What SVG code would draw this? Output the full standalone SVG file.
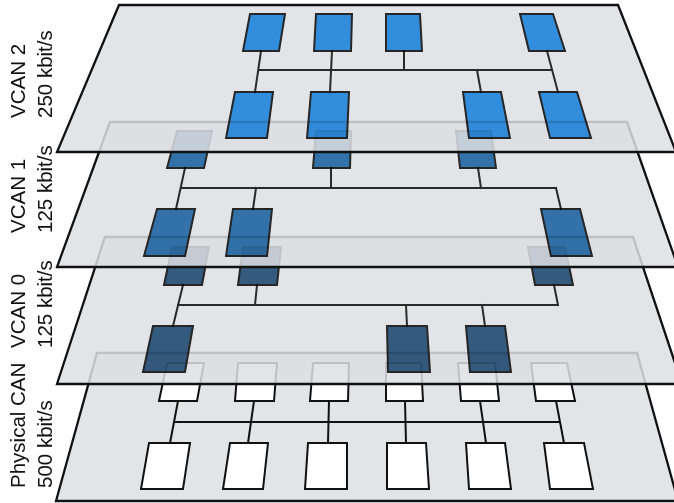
<svg xmlns="http://www.w3.org/2000/svg" width="674" height="503" viewBox="0 0 674 503">
  <style>
    .plane { fill: #dedfe3; fill-opacity: 0.85; stroke: #111; stroke-width: 2.3; stroke-linejoin: miter; }
    .bus { fill: none; stroke: #2a2a2a; stroke-width: 2; stroke-linecap: square; }
    .bus.phys { stroke: #111; }
    .node polygon { stroke: #2a2a2a; stroke-width: 2; stroke-linejoin: miter; }
    .n2 { mix-blend-mode: multiply; }
    .n2 polygon { fill: #389ff3; }
    .n1 { mix-blend-mode: multiply; }
    .n1 polygon { fill: #3880bb; }
    .n0 { mix-blend-mode: multiply; }
    .n0 polygon { fill: #3a648b; }
    .np polygon { fill: #ffffff; stroke: #111; }
    .label { font-family: "Liberation Sans", Arial, sans-serif; font-size: 20.5px; fill: #111; }
  </style>

  <!-- Physical CAN layer -->
  <polygon id="plane-physical" class="plane" points="97,353 637,353 678,501 56,501"/>
  <g id="connectors-physical">
    <line class="bus phys" x1="175" y1="422" x2="559" y2="422"/>
    <line class="bus phys" x1="178" y1="401" x2="170" y2="443"/>
    <line class="bus phys" x1="254" y1="401" x2="248" y2="443"/>
    <line class="bus phys" x1="329" y1="401" x2="328" y2="443"/>
    <line class="bus phys" x1="405" y1="401" x2="406" y2="443"/>
    <line class="bus phys" x1="480" y1="401" x2="486" y2="443"/>
    <line class="bus phys" x1="556" y1="401" x2="564" y2="443"/>
  </g>
  <g id="p1" class="node np"><polygon points="167,363 204,363 197,401 159,401"/></g>
  <g id="p2" class="node np"><polygon points="238,363 277,363 274,401 235,401"/></g>
  <g id="p3" class="node np"><polygon points="313,363 349,363 348,401 310,401"/></g>
  <g id="p4" class="node np"><polygon points="386,363 421,363 423,401 386,401"/></g>
  <g id="p5" class="node np"><polygon points="458,363 495,363 499,401 461,401"/></g>
  <g id="p6" class="node np"><polygon points="531,363 567,363 575,401 536,401"/></g>
  <g id="p7" class="node np"><polygon points="149,443 190,443 183,489 141,489"/></g>
  <g id="p8" class="node np"><polygon points="230,443 268,443 263,489 223,489"/></g>
  <g id="p9" class="node np"><polygon points="308,443 347,443 347,489 305,489"/></g>
  <g id="p10" class="node np"><polygon points="387,443 426,443 429,489 387,489"/></g>
  <g id="p11" class="node np"><polygon points="466,443 505,443 511,489 469,489"/></g>
  <g id="p12" class="node np"><polygon points="544,443 584,443 593,489 550,489"/></g>

  <!-- VCAN 0 layer -->
  <polygon id="plane-vcan0" class="plane" points="105,237 633,237 682,384 57,384"/>
  <g id="connectors-vcan0">
    <line class="bus" x1="178" y1="305" x2="558" y2="305"/>
    <line class="bus" x1="183" y1="285" x2="173" y2="326"/>
    <line class="bus" x1="257" y1="285" x2="255" y2="305"/>
    <line class="bus" x1="406" y1="305" x2="407" y2="326"/>
    <line class="bus" x1="482" y1="305" x2="485" y2="326"/>
    <line class="bus" x1="554" y1="285" x2="558" y2="305"/>
  </g>
  <g id="v0a" class="node n0"><polygon points="172,247 209,247 202,285 164,285"/></g>
  <g id="v0b" class="node n0"><polygon points="243,247 281,247 277,285 238,285"/></g>
  <g id="v0c" class="node n0"><polygon points="528,247 565,247 573,285 535,285"/></g>
  <g id="v0d" class="node n0"><polygon points="153,326 193,326 185,372 143,372"/></g>
  <g id="v0e" class="node n0"><polygon points="387,326 427,326 430,372 388,372"/></g>
  <g id="v0f" class="node n0"><polygon points="466,326 505,326 511,372 470,372"/></g>

  <!-- VCAN 1 layer -->
  <polygon id="plane-vcan1" class="plane" points="110,122 627,122 678,267 57,267"/>
  <g id="connectors-vcan1">
    <line class="bus" x1="182" y1="188" x2="556" y2="188"/>
    <line class="bus" x1="185" y1="168" x2="176" y2="209"/>
    <line class="bus" x1="256" y1="188" x2="253" y2="209"/>
    <line class="bus" x1="331" y1="168" x2="331" y2="188"/>
    <line class="bus" x1="478" y1="168" x2="481" y2="188"/>
    <line class="bus" x1="556" y1="188" x2="561" y2="209"/>
  </g>
  <g id="v1a" class="node n1"><polygon points="177,131 212,131 204,168 167,168"/></g>
  <g id="v1b" class="node n1"><polygon points="316,131 351,131 350,168 313,168"/></g>
  <g id="v1c" class="node n1"><polygon points="456,131 491,131 496,168 460,168"/></g>
  <g id="v1d" class="node n1"><polygon points="157,209 195,209 185,256 144,256"/></g>
  <g id="v1e" class="node n1"><polygon points="233,209 272,209 267,256 226,256"/></g>
  <g id="v1f" class="node n1"><polygon points="541,209 580,209 592,256 551,256"/></g>

  <!-- VCAN 2 layer -->
  <polygon id="plane-vcan2" class="plane" points="119,5 618,5 676,152 57,152"/>
  <g id="connectors-vcan2">
    <line class="bus" x1="259" y1="70" x2="552" y2="70"/>
    <line class="bus" x1="261" y1="51" x2="255" y2="92"/>
    <line class="bus" x1="332" y1="51" x2="330" y2="92"/>
    <line class="bus" x1="404" y1="51" x2="404" y2="70"/>
    <line class="bus" x1="477" y1="70" x2="481" y2="92"/>
    <line class="bus" x1="547" y1="51" x2="558" y2="92"/>
  </g>
  <g id="v2a" class="node n2"><polygon points="250,14 285,14 279,51 243,51"/></g>
  <g id="v2b" class="node n2"><polygon points="316,14 352,14 351,51 314,51"/></g>
  <g id="v2c" class="node n2"><polygon points="386,14 420,14 422,51 386,51"/></g>
  <g id="v2d" class="node n2"><polygon points="520,14 553,14 565,51 529,51"/></g>
  <g id="v2e" class="node n2"><polygon points="235,92 273,92 267,138 226,138"/></g>
  <g id="v2f" class="node n2"><polygon points="311,92 349,92 347,138 307,138"/></g>
  <g id="v2g" class="node n2"><polygon points="463,92 501,92 510,138 469,138"/></g>
  <g id="v2h" class="node n2"><polygon points="539,92 577,92 591,138 550,138"/></g>

  <!-- Layer labels -->
  <g id="labels">
    <text class="label" transform="translate(25,118) rotate(-90)">VCAN 2</text>
    <text class="label" transform="translate(51.5,118) rotate(-90)">250 kbit/s</text>
    <text class="label" transform="translate(25,233) rotate(-90)">VCAN 1</text>
    <text class="label" transform="translate(51.5,233) rotate(-90)">125 kbit/s</text>
    <text class="label" transform="translate(25,348) rotate(-90)">VCAN 0</text>
    <text class="label" transform="translate(51.5,348) rotate(-90)">125 kbit/s</text>
    <text class="label" transform="translate(25,488) rotate(-90)">Physical CAN</text>
    <text class="label" transform="translate(51.5,488) rotate(-90)">500 kbit/s</text>
  </g>
</svg>
